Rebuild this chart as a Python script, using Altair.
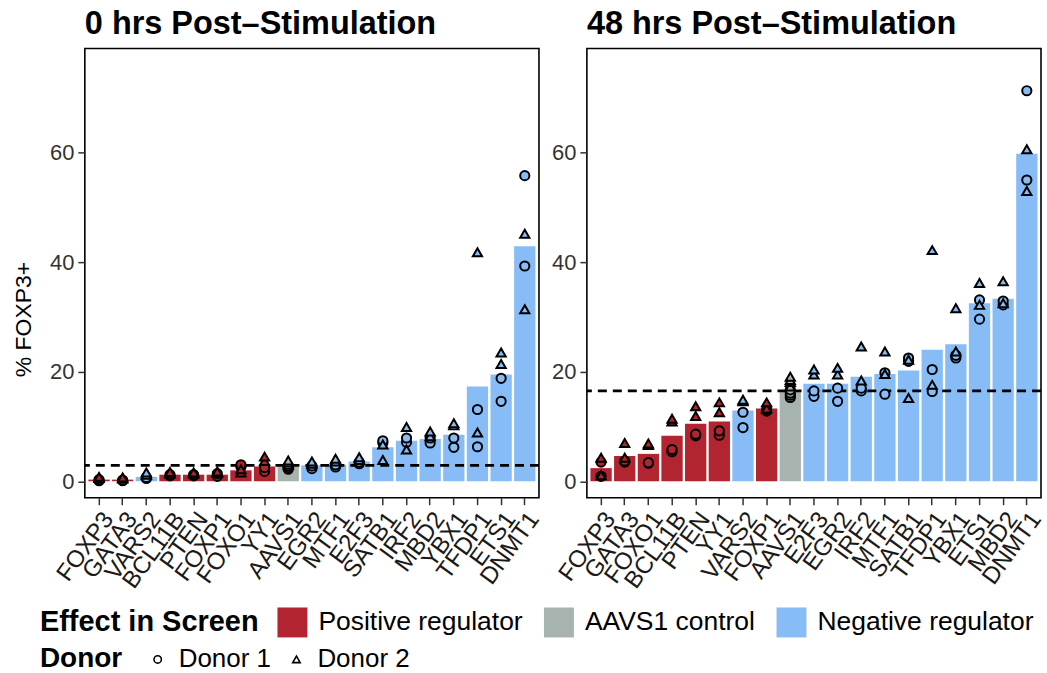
import altair as alt
import pandas as pd

# ---------------- data ----------------
effects = ["Positive regulator", "AAVS1 control", "Negative regulator"]
effect_colors = ["#B22430", "#A6B3AF", "#87BCF7"]
effect_code = {"P": "Positive regulator", "C": "AAVS1 control", "N": "Negative regulator"}
donors = ["Donor 1", "Donor 2"]
donor_shapes = ["circle", "triangle-up"]

# 0 hrs post-stimulation
genes_0h = ["FOXP3", "GATA3", "VARS2", "BCL11B", "PTEN", "FOXP1", "FOXO1", "YY1", "AAVS1",
            "EGR2", "MTF1", "E2F3", "SATB1", "IRF2", "MBD2", "YBX1", "TFDP1", "ETS1", "DNMT1"]
effect_0h = ["P", "P", "N", "P", "P", "P", "P", "P", "C",
             "N", "N", "N", "N", "N", "N", "N", "N", "N", "N"]
bar_0h = [0.3, 0.3, 0.8, 1.2, 1.2, 1.2, 2.0, 2.7, 2.7,
          2.9, 3.0, 3.6, 6.2, 7.4, 7.7, 8.5, 17.3, 19.5, 42.9]
donor1_0h = [[0.1, 0.3], [0.1, 0.2], [0.5, 0.7], [1.0, 1.2], [1.0, 1.2], [0.9, 1.4], [2.6, 3.0],
             [1.8, 2.5], [2.2, 2.5, 2.8], [2.3, 2.8], [2.6, 3.0], [3.2, 3.5], [7.0, 7.4],
             [7.1, 7.9], [7.0, 7.9], [6.2, 7.9], [6.3, 13.1], [14.6, 18.8], [39.3, 55.8]]
donor2_0h = [[0.6, 0.8], [0.5, 0.7], [1.2, 1.6], [1.4, 1.7], [1.4, 1.6], [1.5, 1.8], [1.6, 2.2],
             [3.7, 4.5], [3.0, 3.4, 3.8], [3.2, 3.6], [3.6, 4.1], [3.9, 4.4], [3.9, 6.7],
             [5.8, 9.9], [8.2, 9.1], [10.2, 10.6], [8.9, 41.8], [21.4, 23.5], [31.4, 45.2]]
aavs1_line_0h = 2.9

# 48 hrs post-stimulation
genes_48h = ["FOXP3", "GATA3", "FOXO1", "BCL11B", "PTEN", "YY1", "VARS2", "FOXP1", "AAVS1",
             "E2F3", "EGR2", "IRF2", "MTF1", "SATB1", "TFDP1", "YBX1", "ETS1", "MBD2", "DNMT1"]
effect_48h = ["P", "P", "P", "P", "P", "P", "N", "P", "C",
              "N", "N", "N", "N", "N", "N", "N", "N", "N", "N"]
bar_48h = [2.4, 4.6, 5.0, 8.3, 10.5, 10.9, 12.9, 13.3, 16.4,
           17.8, 17.8, 19.1, 19.6, 20.2, 24.0, 25.0, 32.5, 33.3, 59.8]
donor1_48h = [[0.9, 3.5], [3.5, 3.7], [3.3, 3.4], [5.4, 5.8], [8.3, 8.6], [8.4, 9.2], [9.8, 12.6],
              [12.8, 13.1], [15.3, 15.7, 16.1, 16.7], [15.5, 16.5], [14.6, 17.0], [16.5, 17.0],
              [15.9, 19.8], [21.9, 22.5], [16.4, 20.4], [22.5, 23.0], [29.6, 33.1], [32.2, 32.9],
              [55.0, 71.3]]
donor2_48h = [[1.1, 4.3], [4.3, 7.0], [6.6, 6.9], [10.9, 11.4], [11.9, 13.7], [12.6, 14.4],
              [14.6, 14.9], [13.3, 14.4], [17.3, 18.1, 18.5, 19.1], [19.5, 20.4], [19.5, 20.7],
              [18.4, 24.6], [19.6, 23.7], [15.2, 22.2], [17.6, 42.2], [23.7, 31.6], [32.2, 36.2],
              [32.5, 36.5], [53.0, 60.6]]
aavs1_line_48h = 16.5

y_ticks = [0, 20, 40, 60]
y_domain = [-3.0, 79.0]

FONT = "Liberation Sans"

color_scale = alt.Scale(domain=effects, range=effect_colors)
shape_scale = alt.Scale(domain=donors, range=donor_shapes)

color_legend = alt.Legend(
    title="Effect in Screen", orient="none", legendX=-45, legendY=560,
    direction="horizontal", titleOrient="left", titleFontSize=29, titleFontWeight="bold",
    titleColor="black", titleBaseline="middle", titlePadding=18, titleLimit=0,
    symbolType="square", symbolSize=900, symbolStrokeWidth=0, symbolOpacity=1,
    labelFontSize=26.5, labelColor="black", labelOffset=11, labelLimit=0, columnPadding=21,
    titleFont=FONT, labelFont=FONT,
)
shape_legend = alt.Legend(
    title="Donor", orient="none", legendX=-45, legendY=599,
    direction="horizontal", titleOrient="left", titleFontSize=28, titleFontWeight="bold",
    titleColor="black", titleBaseline="middle", titlePadding=22, titleLimit=0,
    symbolSize=55, symbolStrokeWidth=1.6, symbolStrokeColor="black", symbolFillColor="white",
    labelFontSize=26, labelColor="black", labelOffset=8, labelLimit=0, columnPadding=12,
    titleFont=FONT, labelFont=FONT,
)


def panel(genes, eff, bars, d1, d2, line, title, show_ytitle):
    bar_df = pd.DataFrame({"gene": genes, "effect": [effect_code[e] for e in eff], "pct": bars})
    rows = []
    for g, e, a, b in zip(genes, eff, d1, d2):
        for v in a:
            rows.append({"gene": g, "effect": effect_code[e], "donor": "Donor 1", "pct": v})
        for v in b:
            rows.append({"gene": g, "effect": effect_code[e], "donor": "Donor 2", "pct": v})
    pts_df = pd.DataFrame(rows)
    line_df = pd.DataFrame({"pct": [line]})

    x = alt.X("gene:N", sort=genes,
              scale=alt.Scale(paddingInner=0.1, paddingOuter=0.15),
              axis=alt.Axis(title=None, labelAngle=-54, labelAlign="right", labelBaseline="top",
                            labelFontSize=24, labelColor="#1a1a1a", labelFont=FONT,
                            tickSize=7, tickColor="#333333", tickWidth=1.5, labelLimit=0,
                            domain=False, labelPadding=3, grid=False, labelOverlap=False))
    y_axis = alt.Axis(values=y_ticks, title="% FOXP3+" if show_ytitle else None,
                      titleFontSize=23, titleFontWeight="normal", titleColor="black",
                      titleFont=FONT, titlePadding=14, titleY=271,
                      labelFontSize=22, labelColor="#333333", labelFont=FONT,
                      tickSize=7, tickColor="#333333", tickWidth=1.5,
                      domain=False, grid=False, labelPadding=4)
    y = alt.Y("pct:Q", scale=alt.Scale(domain=y_domain, nice=False, zero=False), axis=y_axis)

    bars_ch = alt.Chart(bar_df).mark_bar().encode(
        x=x, y=y, y2=alt.datum(0),
        color=alt.Color("effect:N", scale=color_scale, legend=color_legend),
    )
    rule_ch = alt.Chart(line_df).mark_rule(color="black", strokeDash=[9, 6], strokeWidth=2.6).encode(
        y=alt.Y("pct:Q")
    )
    pts_ch = alt.Chart(pts_df).mark_point(filled=True, stroke="black", strokeWidth=2,
                                          size=85, opacity=1, strokeOpacity=1).encode(
        x=x, y=alt.Y("pct:Q"),
        fill=alt.Fill("effect:N", scale=color_scale, legend=None),
        shape=alt.Shape("donor:N", scale=shape_scale, legend=shape_legend),
    )
    return alt.layer(bars_ch, rule_ch, pts_ch).properties(
        width=455, height=450,
        title=alt.TitleParams(title, anchor="start", frame="group", fontSize=32.5,
                              fontWeight="bold", color="black", font=FONT, offset=8),
    )


left = panel(genes_0h, effect_0h, bar_0h, donor1_0h, donor2_0h, aavs1_line_0h,
             "0 hrs Post\u2013Stimulation", True)
right = panel(genes_48h, effect_48h, bar_48h, donor1_48h, donor2_48h, aavs1_line_48h,
              "48 hrs Post\u2013Stimulation", False)

chart = alt.hconcat(left, right, spacing=5).properties(
    padding={"left": 11, "top": 6, "right": 0, "bottom": 0}
).configure(
    font=FONT, background="white"
).configure_view(
    stroke="black", strokeWidth=1.6
)

chart.save("out.html", embed_options={"renderer": "svg", "actions": False})
